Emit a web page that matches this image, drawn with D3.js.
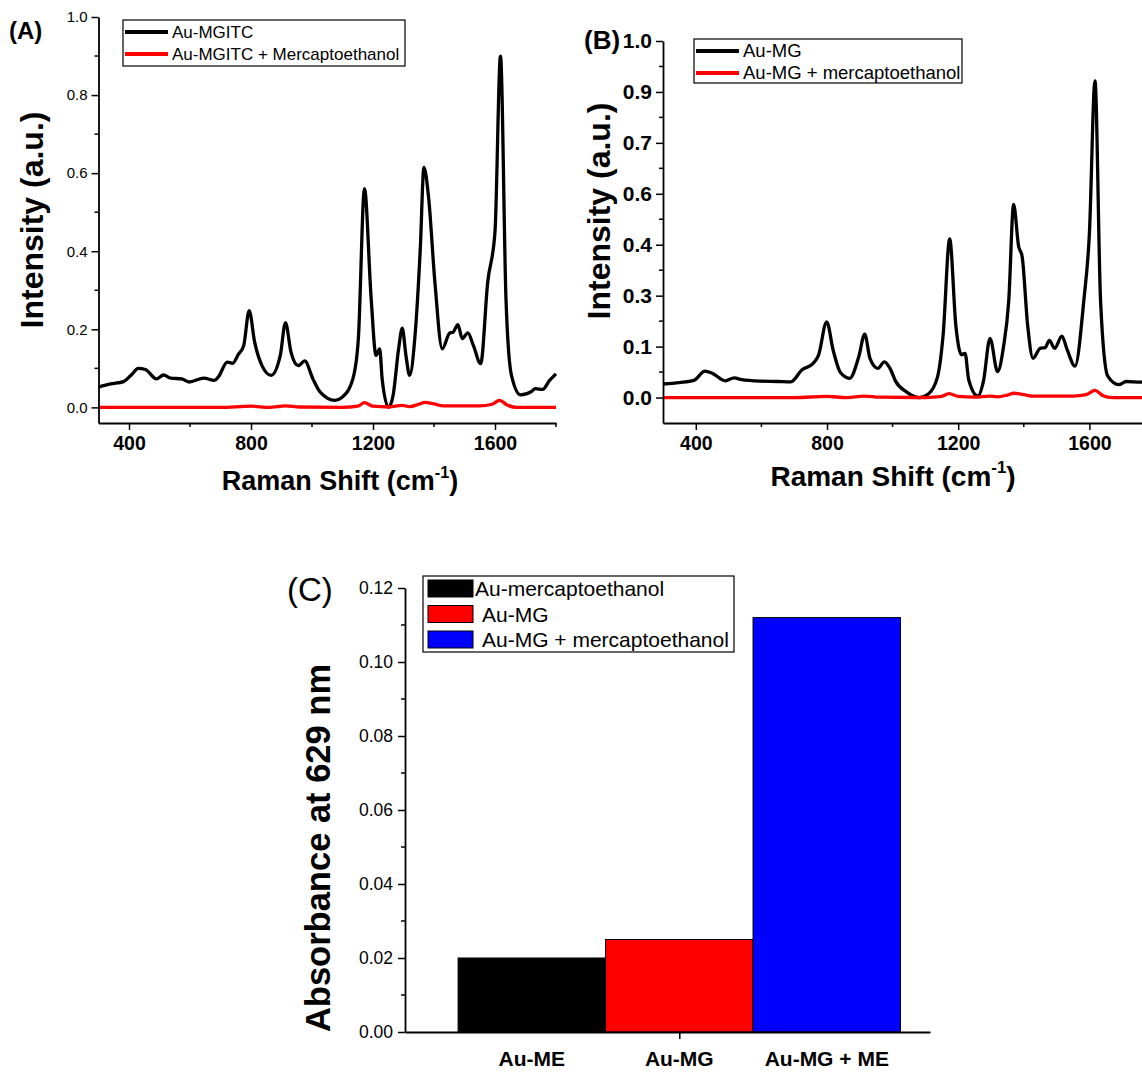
<!DOCTYPE html>
<html>
<head>
<meta charset="utf-8">
<script src="https://cdn.jsdelivr.net/npm/d3@7"></script>
<style>
  html, body { margin: 0; padding: 0; background: #fff; }
  svg { display: block; font-family: Arial, "Liberation Sans", sans-serif; }
</style>
</head>
<body>
<svg id="fig" width="1142" height="1072"></svg>
<script>
// ---- Panel A: Au-MGITC SERS spectra ----
const shiftA = [300, 340, 382, 410, 430, 454, 490, 513, 537, 573, 597, 645, 680, 693, 722, 740, 758, 776, 794, 812, 836, 866, 896, 913, 931, 955, 976, 1003, 1027, 1075, 1099, 1134, 1152, 1172, 1194, 1210, 1222, 1230, 1251, 1266, 1284, 1296, 1308, 1320, 1337, 1355, 1367, 1382, 1403, 1427, 1451, 1463, 1478, 1493, 1511, 1529, 1553, 1576, 1600, 1618, 1636, 1654, 1684, 1720, 1732, 1756, 1779, 1800];
const intensityA = [0.052, 0.060, 0.066, 0.085, 0.100, 0.097, 0.073, 0.083, 0.075, 0.073, 0.065, 0.075, 0.069, 0.078, 0.116, 0.113, 0.135, 0.158, 0.248, 0.167, 0.107, 0.082, 0.133, 0.217, 0.142, 0.107, 0.119, 0.073, 0.039, 0.018, 0.026, 0.073, 0.176, 0.560, 0.278, 0.133, 0.150, 0.073, 0.000, 0.031, 0.150, 0.203, 0.133, 0.082, 0.176, 0.406, 0.615, 0.540, 0.320, 0.150, 0.190, 0.193, 0.212, 0.176, 0.191, 0.159, 0.112, 0.320, 0.450, 0.900, 0.278, 0.082, 0.032, 0.041, 0.048, 0.046, 0.069, 0.086];
const shiftA_ME = [300, 700, 800, 860, 913, 960, 1100, 1150, 1172, 1200, 1251, 1296, 1320, 1350, 1370, 1400, 1430, 1550, 1590, 1615, 1640, 1670, 1800];
const intensityA_ME = [0.000, 0.000, 0.003, 0.000, 0.004, 0.001, 0.000, 0.003, 0.012, 0.003, 0.001, 0.005, 0.002, 0.008, 0.013, 0.009, 0.004, 0.004, 0.008, 0.018, 0.006, 0.000, 0.000];
const yTicksA = [0, 0.2, 0.4, 0.6, 0.8, 1.0];
const yMinorA = [0.1, 0.3, 0.5, 0.7, 0.9];

// ---- Panel B: Au-MG SERS spectra ----
const shiftB = [300, 350, 394, 428, 450, 490, 517, 540, 595, 650, 690, 724, 757, 774, 799, 819, 841, 869, 897, 915, 931, 955, 975, 992, 1009, 1042, 1081, 1109, 1137, 1154, 1174, 1193, 1210, 1221, 1232, 1260, 1277, 1297, 1320, 1338, 1354, 1369, 1384, 1395, 1412, 1428, 1450, 1465, 1478, 1494, 1516, 1533, 1556, 1583, 1600, 1617, 1634, 1656, 1690, 1712, 1757, 1779, 1800];
const intensityB = [0.038, 0.042, 0.048, 0.074, 0.068, 0.047, 0.055, 0.050, 0.046, 0.045, 0.044, 0.078, 0.095, 0.118, 0.212, 0.132, 0.070, 0.054, 0.115, 0.178, 0.110, 0.082, 0.100, 0.082, 0.046, 0.016, 0.000, 0.010, 0.058, 0.175, 0.445, 0.200, 0.120, 0.124, 0.050, 0.004, 0.046, 0.166, 0.073, 0.142, 0.270, 0.542, 0.425, 0.395, 0.200, 0.110, 0.138, 0.140, 0.160, 0.138, 0.172, 0.132, 0.088, 0.272, 0.460, 0.888, 0.272, 0.060, 0.036, 0.045, 0.043, 0.060, 0.075];
const shiftB_ME = [300, 700, 800, 860, 913, 960, 1100, 1150, 1172, 1200, 1251, 1296, 1320, 1350, 1370, 1400, 1430, 1550, 1590, 1617, 1640, 1670, 1800];
const intensityB_ME = [0.000, 0.000, 0.003, 0.000, 0.004, 0.001, 0.000, 0.003, 0.011, 0.003, 0.001, 0.004, 0.002, 0.007, 0.012, 0.008, 0.004, 0.004, 0.008, 0.020, 0.006, 0.000, 0.000];

const xTicksRaman = [400, 800, 1200, 1600];
const xMinorRaman = [600, 1000, 1400, 1800];

// ---- Panel C: absorbance at 629 nm ----
const samples = ["Au-ME", "Au-MG", "Au-MG + ME"];
const absorbance = [0.020, 0.025, 0.112];
const sampleNames = ["Au-mercaptoethanol", "Au-MG", "Au-MG + mercaptoethanol"];
const barColors = ["#000000", "#ff0000", "#0000ff"];
const yTicksC = [0, 0.02, 0.04, 0.06, 0.08, 0.10, 0.12];
const yMinorC = [0.01, 0.03, 0.05, 0.07, 0.09, 0.11];

const svg = d3.select("#fig");

function zip(xs, ys) { return xs.map((x, i) => [x, ys[i]]); }

function drawAxisLines(g, x, y, opt) {
  // x axis
  const xa = d3.axisBottom(x).tickValues(xTicksRaman).tickSize(7).tickSizeOuter(0).tickPadding(6).tickFormat(d3.format("d"));
  const gx = g.append("g").attr("transform", `translate(0,${y.range()[0]})`).call(xa);
  gx.selectAll("text").attr("font-size", opt.xFont).attr("font-weight", "bold").attr("fill", "#000");
  gx.selectAll("line").attr("stroke", "#000").attr("stroke-width", 1.5);
  gx.select(".domain").attr("stroke", "#000").attr("stroke-width", 1.8);
  gx.selectAll(".minor").data(xMinorRaman.filter(v => x(v) <= 1142)).enter().append("line")
    .attr("x1", d => x(d)).attr("x2", d => x(d)).attr("y1", 0).attr("y2", 4)
    .attr("stroke", "#000").attr("stroke-width", 1.5);
  // y axis
  const ya = d3.axisLeft(y).tickValues(opt.yTicks).tickSize(7).tickSizeOuter(0).tickPadding(4).tickFormat(d3.format(".1f"));
  const gy = g.append("g").attr("transform", `translate(${x.range()[0]},0)`).call(ya);
  gy.selectAll("text").attr("font-size", opt.yFont).attr("font-weight", opt.yWeight).attr("fill", "#000");
  gy.selectAll("line").attr("stroke", "#000").attr("stroke-width", 1.5);
  gy.select(".domain").attr("stroke", "#000").attr("stroke-width", 1.8);
  gy.selectAll(".minor").data(opt.yMinor).enter().append("line")
    .attr("x1", 0).attr("x2", -4).attr("y1", d => y(d)).attr("y2", d => y(d))
    .attr("stroke", "#000").attr("stroke-width", 1.5);
}

function drawSpectra(g, x, y, series) {
  const line = d3.line().x(d => x(d[0])).y(d => y(d[1])).curve(d3.curveMonotoneX);
  series.forEach(s => {
    g.append("path").datum(s.pts).attr("d", line)
      .attr("fill", "none").attr("stroke", s.color).attr("stroke-width", 3.3)
      .attr("stroke-linejoin", "round");
  });
}

function ramanTitle(g, cx, cy, size) {
  const t = g.append("text").attr("x", cx).attr("y", cy).attr("text-anchor", "middle")
    .attr("font-size", size).attr("font-weight", "bold").attr("fill", "#000");
  t.append("tspan").text("Raman Shift (cm");
  t.append("tspan").text("-1").attr("font-size", size * 0.6).attr("dy", -size * 0.45);
  t.append("tspan").text(")").attr("dy", size * 0.45);
}

function intensityTitle(g, x, cy) {
  g.append("text").attr("transform", `translate(${x},${cy}) rotate(-90)`)
    .attr("text-anchor", "middle").attr("font-size", 32).attr("font-weight", "bold")
    .attr("fill", "#000").text("Intensity (a.u.)");
}

function lineLegend(g, left, top, w, h, rows, fs) {
  g.append("rect").attr("x", left).attr("y", top).attr("width", w).attr("height", h)
    .attr("fill", "#fff").attr("stroke", "#000").attr("stroke-width", 1.2);
  rows.forEach((r, i) => {
    const cy = top + 12 + i * 22;
    g.append("line").attr("x1", left + 2).attr("x2", left + 45).attr("y1", cy).attr("y2", cy)
      .attr("stroke", r.color).attr("stroke-width", 4);
    g.append("text").attr("x", left + 49).attr("y", cy + 6).attr("font-size", fs)
      .attr("fill", "#000").text(r.label);
  });
}

// ---------- Panel A ----------
{
  const x = d3.scaleLinear().domain([300, 1800]).range([98.5, 556]);
  const y = d3.scaleLinear().domain([-0.04, 1.0]).range([423, 17]);
  const g = svg.append("g");
  drawSpectra(g, x, y, [
    { pts: zip(shiftA, intensityA), color: "#000000" },
    { pts: zip(shiftA_ME, intensityA_ME), color: "#ff0000" }
  ]);
  drawAxisLines(g, x, y, { yTicks: yTicksA, yMinor: yMinorA, xFont: 19.5, yFont: 15, yWeight: "normal" });
  lineLegend(g, 123, 20, 282, 46, [
    { color: "#000000", label: "Au-MGITC" },
    { color: "#ff0000", label: "Au-MGITC + Mercaptoethanol" }
  ], 17);
  ramanTitle(g, 340, 490, 27);
  intensityTitle(g, 43, 220);
  g.append("text").attr("x", 9).attr("y", 39).attr("font-size", 24).attr("font-weight", "bold").text("(A)");
}

// ---------- Panel B ----------
{
  const x = d3.scaleLinear().domain([300, 1800]).range([663, 1155]);
  const y = d3.scaleLinear().domain([-1 / 14, 1.0]).range([423, 41]);
  const yTicksB = d3.range(0, 8).map(k => k / 7);
  const yMinorB = d3.range(0, 7).map(k => (2 * k + 1) / 14);
  const g = svg.append("g");
  drawSpectra(g, x, y, [
    { pts: zip(shiftB, intensityB), color: "#000000" },
    { pts: zip(shiftB_ME, intensityB_ME), color: "#ff0000" }
  ]);
  drawAxisLines(g, x, y, { yTicks: yTicksB, yMinor: yMinorB, xFont: 19.5, yFont: 21, yWeight: "bold" });
  lineLegend(g, 694, 39, 268, 44, [
    { color: "#000000", label: "Au-MG" },
    { color: "#ff0000", label: "Au-MG + mercaptoethanol" }
  ], 18.5);
  ramanTitle(g, 893, 486, 28);
  intensityTitle(g, 610, 211);
  g.append("text").attr("x", 584).attr("y", 49).attr("font-size", 26).attr("font-weight", "bold").text("(B)");
}

// ---------- Panel C ----------
{
  const x = d3.scaleLinear().domain([0.14, 3.7]).range([405, 930]);
  const y = d3.scaleLinear().domain([0, 0.12]).range([1032, 588]);
  const g = svg.append("g");
  g.selectAll("rect.bar").data(absorbance).enter().append("rect").attr("class", "bar")
    .attr("x", (d, i) => x(i + 0.5)).attr("width", (d, i) => x(i + 1.5) - x(i + 0.5))
    .attr("y", d => y(d)).attr("height", d => y(0) - y(d))
    .attr("fill", (d, i) => barColors[i]).attr("stroke", "#000").attr("stroke-width", 1);

  const gy = g.append("g").attr("transform", `translate(${x.range()[0]},0)`)
    .call(d3.axisLeft(y).tickValues(yTicksC).tickSize(7).tickSizeOuter(0).tickPadding(5).tickFormat(d3.format(".2f")));
  gy.selectAll("text").attr("font-size", 17.5).attr("fill", "#000");
  gy.selectAll("line").attr("stroke", "#000").attr("stroke-width", 1.5);
  gy.select(".domain").attr("stroke", "#000").attr("stroke-width", 1.8);
  gy.selectAll(".minor").data(yMinorC).enter().append("line")
    .attr("x1", 0).attr("x2", -4).attr("y1", d => y(d)).attr("y2", d => y(d))
    .attr("stroke", "#000").attr("stroke-width", 1.5);

  const gx = g.append("g").attr("transform", `translate(0,${y(0)})`)
    .call(d3.axisBottom(x).tickValues([2]).tickSize(7).tickSizeOuter(0).tickFormat(""));
  gx.selectAll("line").attr("stroke", "#000").attr("stroke-width", 1.5);
  gx.select(".domain").attr("stroke", "#000").attr("stroke-width", 1.8);

  g.selectAll("text.cat").data(samples).enter().append("text").attr("class", "cat")
    .attr("x", (d, i) => x(i + 1)).attr("y", 1066).attr("text-anchor", "middle")
    .attr("font-size", 21).attr("font-weight", "bold").attr("fill", "#000").text(d => d);

  g.append("text").attr("transform", `translate(330,848) rotate(-90)`)
    .attr("text-anchor", "middle").attr("font-size", 34.5).attr("font-weight", "bold")
    .attr("fill", "#000").text("Absorbance at 629 nm");

  // legend
  g.append("rect").attr("x", 423).attr("y", 576).attr("width", 311).attr("height", 76)
    .attr("fill", "#fff").attr("stroke", "#000").attr("stroke-width", 1.2);
  sampleNames.forEach((name, i) => {
    const top = 580 + i * 25.5;
    g.append("rect").attr("x", 428).attr("y", top).attr("width", 45).attr("height", 17)
      .attr("fill", barColors[i]).attr("stroke", "#000").attr("stroke-width", 1);
    g.append("text").attr("x", i === 0 ? 475 : 482).attr("y", top + 16).attr("font-size", 21)
      .attr("fill", "#000").text(name);
  });

  g.append("text").attr("x", 287).attr("y", 601).attr("font-size", 33).attr("fill", "#000").text("(C)");
}
</script>
</body>
</html>
